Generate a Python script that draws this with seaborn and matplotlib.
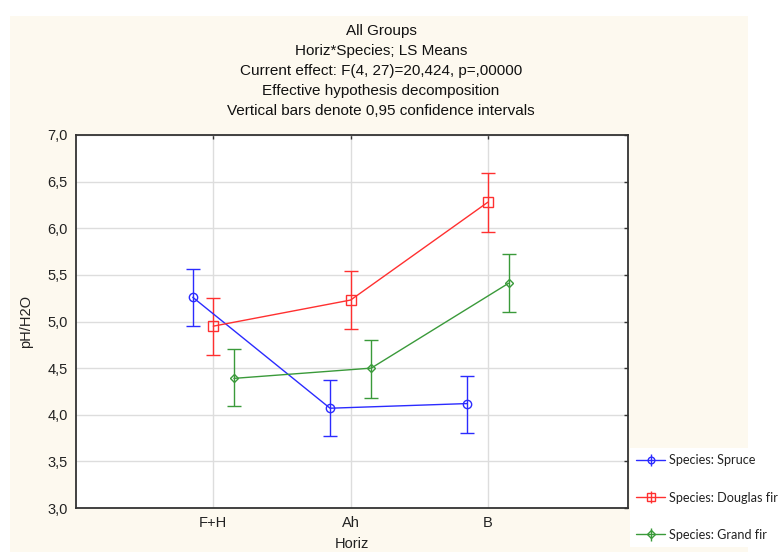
import numpy as np
import pandas as pd
import matplotlib
matplotlib.use("Agg")
import matplotlib.pyplot as plt
from matplotlib.patches import Rectangle
from matplotlib.ticker import FuncFormatter
import seaborn as sns

# LS means with 0.95 confidence limits
horizons = ["F+H", "Ah", "B"]
species = ["Species: Spruce", "Species: Douglas fir", "Species: Grand fir"]
spruce_mean = [5.26, 4.07, 4.12]
spruce_low = [4.95, 3.77, 3.80]
spruce_high = [5.56, 4.37, 4.42]
douglas_mean = [4.95, 5.23, 6.28]
douglas_low = [4.64, 4.92, 5.96]
douglas_high = [5.25, 5.54, 6.59]
grand_mean = [4.39, 4.50, 5.41]
grand_low = [4.09, 4.18, 5.10]
grand_high = [4.70, 4.80, 5.72]

title_lines = [
    "All Groups",
    "Horiz*Species; LS Means",
    "Current effect: F(4, 27)=20,424, p=,00000",
    "Effective hypothesis decomposition",
    "Vertical bars denote 0,95 confidence intervals",
]

colors = ["#2b2bff", "#ff3030", "#3a9a3a"]
markers = ["o", "s", "D"]
msizes = [6, 7, 4.5]
offsets = [-0.15, 0.0, 0.15]

means = [spruce_mean, douglas_mean, grand_mean]
lows = [spruce_low, douglas_low, grand_low]
highs = [spruce_high, douglas_high, grand_high]

rows = []
for s, m, lo, hi, off in zip(species, means, lows, highs, offsets):
    for i, h in enumerate(horizons):
        rows.append({"species": s, "horiz": h, "pos": i + off,
                     "mean": m[i], "low": lo[i], "high": hi[i]})
df = pd.DataFrame(rows)

sns.set_style("white")
plt.rcParams["font.family"] = ["Liberation Sans", "DejaVu Sans"]

fig = plt.figure(figsize=(7.78, 5.52), dpi=100, facecolor="white")
bg = Rectangle((10 / 778, 0), 738 / 778, 1 - 16 / 552,
               transform=fig.transFigure, facecolor="#fdf9ef",
               edgecolor="none", zorder=-10)
fig.add_artist(bg)
ax = fig.add_axes([76 / 778, 44 / 552, 552 / 778, 373 / 552])
ax.set_facecolor("white")

sns.lineplot(data=df, x="pos", y="mean", hue="species", style="species",
             palette=colors, markers=markers, dashes=False, sort=True,
             legend=False, ax=ax, linewidth=1.0, markerfacecolor="none",
             markeredgewidth=1.0, zorder=3)
for line, ms, c in zip(ax.lines, msizes, colors):
    line.set_markersize(ms)
    line.set_markeredgecolor(c)
    line.set_markerfacecolor("none")

handles = []
for s, c, mk, ms in zip(species, colors, markers, msizes):
    sub = df[df["species"] == s]
    err = [sub["mean"] - sub["low"], sub["high"] - sub["mean"]]
    ax.errorbar(sub["pos"], sub["mean"], yerr=err, fmt="none", ecolor=c,
                elinewidth=1.0, capsize=5, capthick=1.0, zorder=2)
    h = ax.errorbar([], [], yerr=[], fmt="-" + mk, color=c, markersize=ms * 0.8,
                    markerfacecolor="none", linewidth=1.0, elinewidth=1.0,
                    capsize=7, capthick=1.0)
    handles.append(h)

ax.set_xlim(-1, 3.02)
ax.set_ylim(3.0, 7.0)
ax.set_xticks(range(len(horizons)))
ax.set_xticklabels(horizons)
ax.set_yticks(np.arange(3.0, 7.01, 0.5))
ax.yaxis.set_major_formatter(FuncFormatter(lambda v, p: f"{v:.1f}".replace(".", ",")))
ax.grid(True, color="#dddddd", linewidth=1.0, zorder=0)
ax.set_axisbelow(True)
for sp in ax.spines.values():
    sp.set_color("#333333")
    sp.set_linewidth(1.3)
ax.tick_params(direction="in", length=3, width=1, colors="#333333",
               labelcolor="#222222", labelsize=10.5, top=True, right=True,
               labeltop=False, labelright=False, pad=6)
ax.set_xlabel("Horiz", fontsize=10.5, color="#222222", labelpad=5)
ax.set_ylabel("pH/H2O", fontsize=10.5, color="#222222", labelpad=10)

for k, t in enumerate(title_lines):
    fig.text(381 / 778, 1 - (31 + k * 20) / 552, t, ha="center", va="center",
             fontsize=11, color="#111111")

leg = fig.legend(handles, species, loc="upper left",
                 bbox_to_anchor=(630 / 778, 1 - 448 / 552),
                 bbox_transform=fig.transFigure, frameon=True,
                 facecolor="white", edgecolor="none", fancybox=False,
                 framealpha=1, labelspacing=2.0, handlelength=2.3,
                 handletextpad=0.3, borderpad=0.5, borderaxespad=0,
                 prop={"family": "Lato", "size": 9.1})
for t in leg.get_texts():
    t.set_color("#222222")

fig.savefig("out.png", dpi=100, facecolor=fig.get_facecolor())
